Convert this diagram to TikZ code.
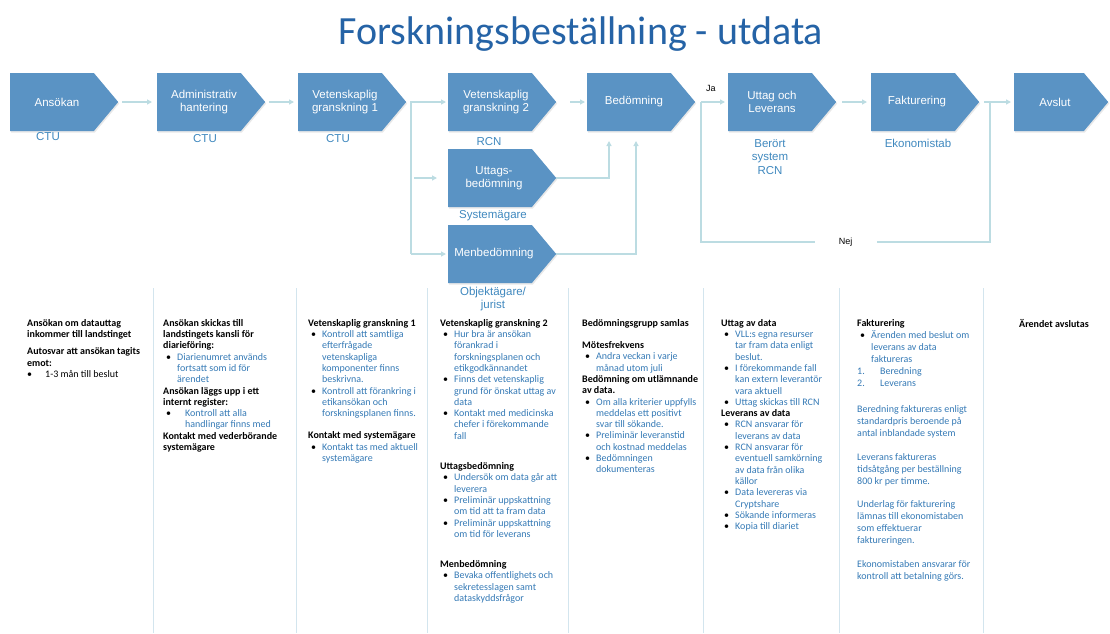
\documentclass[tikz,border=0pt]{standalone}
\usepackage{fontspec}
\setmainfont{Carlito}
\newfontfamily\arialf{Liberation Sans}
\usetikzlibrary{shapes.symbols,arrows.meta,shadows}
\definecolor{boxblue}{HTML}{5A93C4}
\definecolor{linec}{HTML}{BCDCE2}
\definecolor{labblue}{HTML}{3F88BE}
\definecolor{txtblue}{HTML}{3479B5}
\definecolor{titleblue}{HTML}{2563A6}
\definecolor{sepc}{HTML}{D3E5EE}
\newcommand{\bl}[1]{\makebox[14pt][l]{\hspace{3pt}•}{\color{txtblue}#1}}
\newcommand{\ct}[1]{\hspace*{14pt}{\color{txtblue}#1}}
\newcommand{\blw}[1]{\makebox[22pt][l]{\hspace{3pt}•}{\color{txtblue}#1}}
\newcommand{\ctw}[1]{\hspace*{22pt}{\color{txtblue}#1}}
\begin{document}
\begin{tikzpicture}[x=1pt,y=-1pt,
  proc/.style={signal, signal to=east, signal pointer angle=100, fill=boxblue,
    minimum width=108pt, minimum height=58pt, inner sep=0pt, anchor=west,
    drop shadow={opacity=0.18, shadow xshift=1pt, shadow yshift=-1.5pt}},
  boxtxt/.style={font=\arialf\fontsize{11.5}{13.5}\selectfont, text=white, align=center, inner sep=0pt},
  lab/.style={font=\arialf\fontsize{11.5}{13.5}\selectfont, text=labblue, align=center, inner sep=0pt},
  small/.style={font=\arialf\fontsize{9}{11}\selectfont, text=black, inner sep=0pt},
  conn/.style={draw=linec, line width=1.2pt},
  arr/.style={conn, -{Triangle[length=5pt,width=5pt]}},
  sep/.style={draw=sepc, line width=0.8pt},
  coltxt/.style={anchor=north west, inner sep=0pt, align=left, font=\fontsize{10}{11.3}\selectfont}
]
\useasboundingbox (0,0) rectangle (1110,633);

% title
\node[font=\fontsize{40}{48}\selectfont, text=titleblue, anchor=base] (title) at (581,44) {Forskningsbeställning - utdata};

% process boxes
\node[proc] (ansokan) at (10,102) {};
\node[proc] (admin) at (157,102) {};
\node[proc] (vet1) at (298,102) {};
\node[proc] (vet2) at (448,102) {};
\node[proc] (uttags) at (448,178) {};
\node[proc] (menbed) at (448,254) {};
\node[proc] (bedom) at (587,102) {};
\node[proc] (uttag) at (728,102) {};
\node[proc] (faktur) at (871,102) {};
\node[proc, minimum width=94pt] (avslut) at (1014,102) {};

\node[boxtxt] (ansokan-t) at (57,102) {Ansökan};
\node[boxtxt] (admin-t) at (204,102) {Administrativ\\hantering};
\node[boxtxt] (vet1-t) at (345,102) {Vetenskaplig\\granskning 1};
\node[boxtxt] (vet2-t) at (496,102) {Vetenskaplig\\granskning 2};
\node[boxtxt] (uttags-t) at (494,178) {Uttags-\\bedömning};
\node[boxtxt] (menbed-t) at (494,254) {Menbedömning};
\node[boxtxt] (bedom-t) at (634,102) {Bedömning};
\node[boxtxt] (uttag-t) at (772,102) {Uttag och\\Leverans};
\node[boxtxt] (faktur-t) at (917,102) {Fakturering};
\node[boxtxt] (avslut-t) at (1055,102) {Avslut};

% labels under boxes
\node[lab] (l1) at (48,137) {CTU};
\node[lab] (l2) at (205,139) {CTU};
\node[lab] (l3) at (338,139) {CTU};
\node[lab] (l4) at (489,142) {RCN};
\node[lab] (l5) at (493,216) {Systemägare};
\node[lab] (l6) at (493,299) {Objektägare/\\jurist};
\node[lab] (l7) at (770,157) {Berört\\system\\RCN};
\node[lab] (l8) at (918,143) {Ekonomistab};

% connectors
\coordinate (b1) at (411,102);
\coordinate (b2) at (411,178);
\coordinate (b3) at (411,254);
\coordinate (u1) at (609,178);
\coordinate (u2) at (609,141);
\coordinate (m1) at (636,254);
\coordinate (m2) at (636,141);
\coordinate (j0) at (701,102);
\coordinate (j1) at (701,242);
\coordinate (n1) at (990,242);
\coordinate (n0) at (990,102);

\draw[arr] ([xshift=4pt]ansokan.east) -- ([xshift=-5pt]admin.west);
\draw[arr] ([xshift=4pt]admin.east) -- ([xshift=-4pt]vet1.west);
\draw[conn] ([xshift=5pt]vet1.east) -- (b1) -- (b3);
\draw[arr] (b1) -- ([xshift=-2pt]vet2.west);
\draw[arr] ([xshift=3pt]b2) -- ([xshift=-11pt]uttags.west);
\draw[arr] (b3) -- ([xshift=-2pt]menbed.west);
\draw[arr] ([xshift=14pt]vet2.east) -- ([xshift=-2pt]bedom.west);
\draw[arr] (uttags.east) -- (u1) -- (u2);
\draw[arr] (menbed.east) -- (m1) -- (m2);
\draw[arr] (j0) -- ([xshift=-3pt]uttag.west);
\draw[arr] ([xshift=6pt]uttag.east) -- ([xshift=-4pt]faktur.west);
\draw[arr] ([xshift=5pt]faktur.east) -- ([xshift=-3pt]avslut.west);
\draw[conn] (j0) -- (j1) -- node[small, fill=white, minimum width=62pt, minimum height=10pt] (nej) {Nej} (n1) -- (n0);
\node[small, anchor=south west] (ja) at (706,92) {Ja};

% column separators
\foreach \x in {153,296,427,568,703,839,983}
  \draw[sep] (\x,288) -- (\x,633);

% column texts
\node[coltxt] (c1) at (27,319) {%
\textbf{Ansökan om datauttag}\\
\textbf{inkommer till landstinget}\\[6pt]
\textbf{Autosvar att ansökan tagits}\\
\textbf{emot:}\\
\makebox[18pt][l]{•}1-3 mån till beslut};

\node[coltxt] (c2) at (163,319) {%
\textbf{Ansökan skickas till}\\
\textbf{landstingets kansli för}\\
\textbf{diarieföring:}\\
\bl{Diarienumret används}\\
\ct{fortsatt som id för}\\
\ct{ärendet}\\
\textbf{Ansökan läggs upp i ett}\\
\textbf{internt register:}\\
\blw{Kontroll att alla}\\
\ctw{handlingar finns med}\\
\textbf{Kontakt med vederbörande}\\
\textbf{systemägare}};

\node[coltxt] (c3) at (308,319) {%
\textbf{Vetenskaplig granskning 1}\\
\bl{Kontroll att samtliga}\\
\ct{efterfrågade}\\
\ct{vetenskapliga}\\
\ct{komponenter finns}\\
\ct{beskrivna.}\\
\bl{Kontroll att förankring i}\\
\ct{etikansökan och}\\
\ct{forskningsplanen finns.}\\[11pt]
\textbf{Kontakt med systemägare}\\
\bl{Kontakt tas med aktuell}\\
\ct{systemägare}};

\node[coltxt] (c4) at (440,319) {%
\textbf{Vetenskaplig granskning 2}\\
\bl{Hur bra är ansökan}\\
\ct{förankrad i}\\
\ct{forskningsplanen och}\\
\ct{etikgodkännandet}\\
\bl{Finns det vetenskaplig}\\
\ct{grund för önskat uttag av}\\
\ct{data}\\
\bl{Kontakt med medicinska}\\
\ct{chefer i förekommande}\\
\ct{fall}\\[19pt]
\textbf{Uttagsbedömning}\\
\bl{Undersök om data går att}\\
\ct{leverera}\\
\bl{Preliminär uppskattning}\\
\ct{om tid att ta fram data}\\
\bl{Preliminär uppskattning}\\
\ct{om tid för leverans}\\[19pt]
\textbf{Menbedömning}\\
\bl{Bevaka offentlighets och}\\
\ct{sekretesslagen samt}\\
\ct{dataskyddsfrågor}};

\node[coltxt] (c5) at (582,319) {%
\textbf{Bedömningsgrupp samlas}\\[11pt]
\textbf{Mötesfrekvens}\\
\bl{Andra veckan i varje}\\
\ct{månad utom juli}\\
\textbf{Bedömning om utlämnande}\\
\textbf{av data.}\\
\bl{Om alla kriterier uppfylls}\\
\ct{meddelas ett positivt}\\
\ct{svar till sökande.}\\
\bl{Preliminär leveranstid}\\
\ct{och kostnad meddelas}\\
\bl{Bedömningen}\\
\ct{dokumenteras}};

\node[coltxt] (c6) at (721,319) {%
\textbf{Uttag av data}\\
\bl{VLL:s egna resurser}\\
\ct{tar fram data enligt}\\
\ct{beslut.}\\
\bl{I förekommande fall}\\
\ct{kan extern leverantör}\\
\ct{vara aktuell}\\
\bl{Uttag skickas till RCN}\\
\textbf{Leverans av data}\\
\bl{RCN ansvarar för}\\
\ct{leverans av data}\\
\bl{RCN ansvarar för}\\
\ct{eventuell samkörning}\\
\ct{av data från olika}\\
\ct{källor}\\
\bl{Data levereras via}\\
\ct{Cryptshare}\\
\bl{Sökande informeras}\\
\bl{Kopia till diariet}};

\node[coltxt, font=\fontsize{10}{12}\selectfont] (c7) at (857,319) {%
\textbf{Fakturering}\\
\bl{Ärenden med beslut om}\\
\ct{leverans av data}\\
\ct{faktureras}\\
\makebox[23pt][l]{\color{txtblue}1.}{\color{txtblue}Beredning}\\
\makebox[23pt][l]{\color{txtblue}2.}{\color{txtblue}Leverans}\\[14pt]
{\color{txtblue}Beredning faktureras enligt}\\
{\color{txtblue}standardpris beroende på}\\
{\color{txtblue}antal inblandade system}\\[12pt]
{\color{txtblue}Leverans faktureras}\\
{\color{txtblue}tidsåtgång per beställning}\\
{\color{txtblue}800 kr per timme.}\\[11pt]
{\color{txtblue}Underlag för fakturering}\\
{\color{txtblue}lämnas till ekonomistaben}\\
{\color{txtblue}som effektuerar}\\
{\color{txtblue}faktureringen.}\\[12pt]
{\color{txtblue}Ekonomistaben ansvarar för}\\
{\color{txtblue}kontroll att betalning görs.}};

\node[coltxt] (c8) at (1019,319) {\textbf{Ärendet avslutas}};
\end{tikzpicture}
\end{document}
